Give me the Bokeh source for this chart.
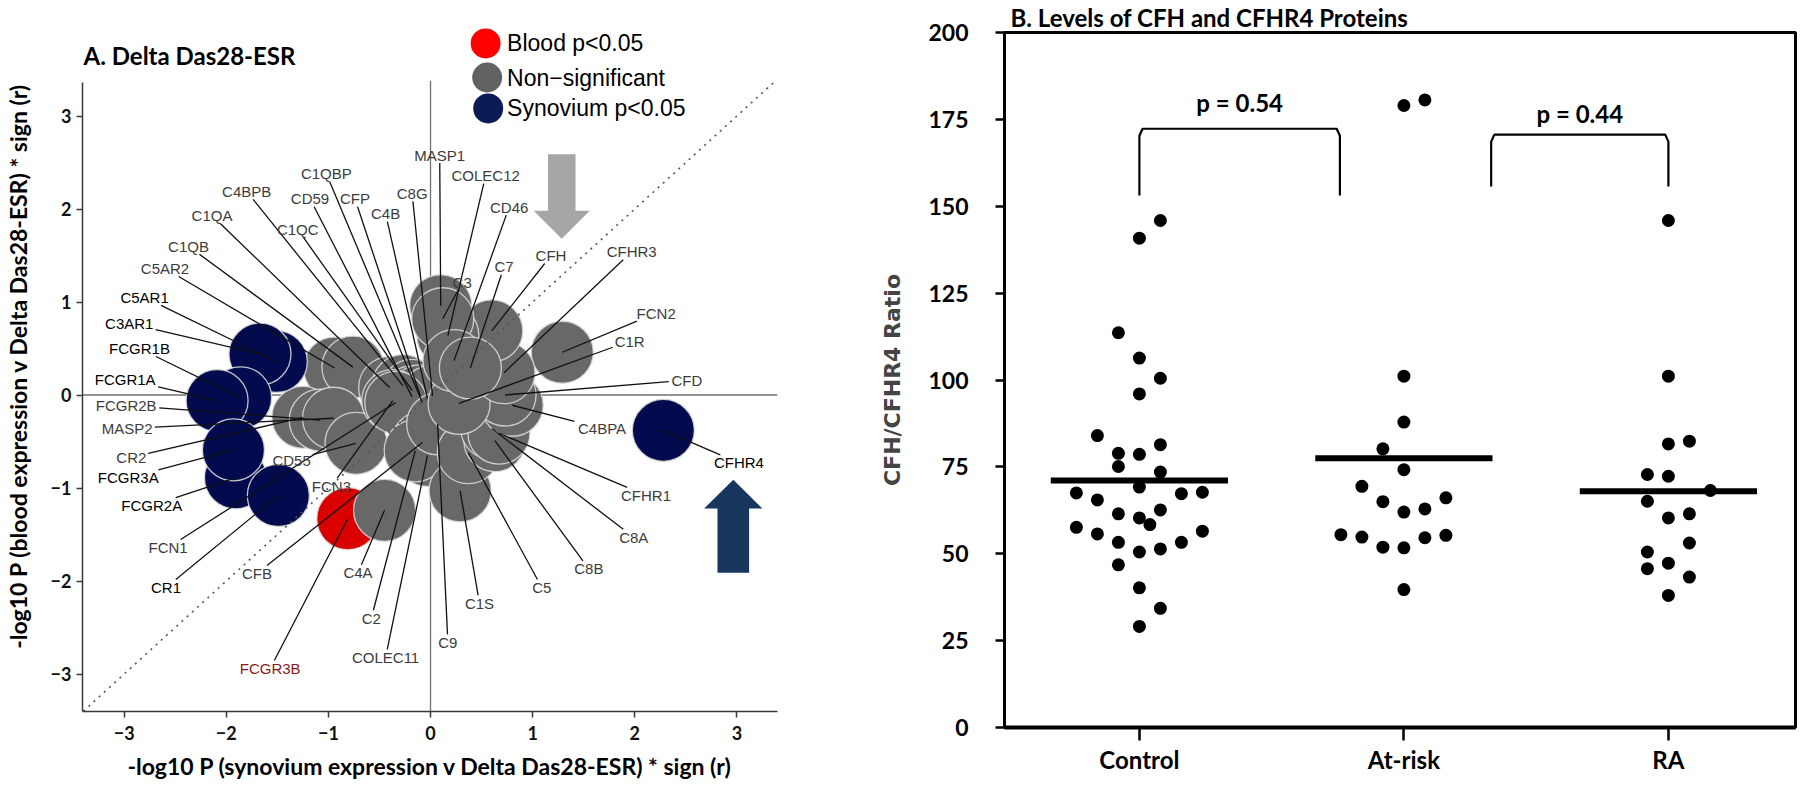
import math
from bokeh.plotting import figure
from bokeh.layouts import row
from bokeh.models import Range1d, FixedTicker, Label, ColumnDataSource, Title
from bokeh.embed import file_html
from bokeh.resources import INLINE
from bokeh.core.properties import value

# ---------------- Panel A data ----------------
genes = ["FCGR3B",
         "C5AR2", "C1QB", "C1QA", "C4BPB", "C1QC", "CD59", "C1QBP", "CFP", "C4B", "C8G",
         "CR2", "FCGR2B", "MASP2", "CD55", "FCN3", "FCN1", "CFB", "COLEC11", "C2", "C4A",
         "C9", "C1S", "C5", "C8B", "C8A", "CFHR1", "C4BPA", "CFD", "C1R", "FCN2", "CFHR3",
         "CFH", "MASP1", "COLEC12", "C3", "CD46", "C7",
         "C5AR1", "C3AR1", "FCGR1B", "FCGR1A", "FCGR2A", "FCGR3A", "CR1", "CFHR4"]
synovium = [-0.81,
            -0.94, -0.76, -0.40, -0.27, -0.18, -0.18, -0.08, -0.10, -0.03, 0.02,
            -1.25, -1.08, -0.95, -0.73, -0.37, -0.34, -0.08, -0.03, -0.15, -0.45,
            0.07, 0.29, 0.37, 0.63, 0.60, 0.67, 0.80, 0.73, 0.28, 1.29, 0.72,
            0.60, 0.10, 0.17, 0.12, 0.23, 0.39,
            -1.51, -1.67, -1.86, -2.09, -1.91, -1.93, -1.49, 2.28]
blood = [-1.33,
         0.29, 0.30, 0.08, 0.10, 0.05, -0.02, -0.08, -0.01, -0.04, -0.01,
         -0.24, -0.27, -0.25, -0.52, -0.06, -0.08, -0.51, -0.65, -0.60, -1.24,
         -0.31, -1.03, -0.62, -0.49, -0.36, -0.41, -0.11, 0.00, -0.09, 0.46, 0.24,
         0.69, 0.96, 0.64, 0.82, 0.37, 0.29,
         0.36, 0.44, -0.03, -0.06, -0.89, -0.59, -1.08, -0.38]
label_x = [-1.57,
           -2.60, -2.37, -2.14, -1.80, -1.30, -1.18, -1.02, -0.74, -0.44, -0.18,
           -2.93, -2.98, -2.97, -1.36, -0.97, -2.57, -1.70, -0.44, -0.58, -0.71,
           0.17, 0.48, 1.09, 1.55, 1.99, 2.11, 1.68, 2.51, 1.95, 2.21, 1.97,
           1.18, 0.09, 0.54, 0.31, 0.77, 0.72,
           -2.80, -2.95, -2.85, -2.99, -2.73, -2.96, -2.59, 3.02]
label_y = [-2.94,
           1.36, 1.60, 1.93, 2.19, 1.78, 2.11, 2.38, 2.11, 1.95, 2.17,
           -0.67, -0.11, -0.36, -0.70, -0.98, -1.64, -1.92, -2.82, -2.40, -1.91,
           -2.66, -2.24, -2.07, -1.87, -1.53, -1.08, -0.36, 0.16, 0.58, 0.88, 1.54,
           1.50, 2.58, 2.36, 1.21, 2.02, 1.38,
           1.05, 0.77, 0.50, 0.17, -1.19, -0.89, -2.07, -0.73]
group = (["blood"] + ["ns"] * 37 + ["syn"] * 8)

legend_labels = ["Blood p<0.05", "Non\u2212significant", "Synovium p<0.05"]
legend_groups = ["blood", "ns", "syn"]

# ---------------- Panel B data ----------------
categories = ["Control", "At-risk", "RA"]
control_vals = [145.9, 140.8, 113.6, 106.3, 100.5, 96.0, 84.0, 78.9, 78.6, 81.4, 75.1, 73.5,
                67.5, 65.5, 69.2, 67.3, 67.7, 61.5, 62.6, 60.3, 58.4, 57.6, 55.7, 56.5,
                53.3, 53.3, 50.5, 51.4, 46.8, 40.2, 34.3, 29.1]
control_col = [1, 0, -1, 0, 1, 0, -2, -1, 0, 1, -1, 1,
               -3, -2, 0, 2, 3, -1, 1, 0, 0.5, -3, -2, 3,
               -1, 2, 0, 1, -1, 0, 1, 0]
atrisk_vals = [179.0, 180.6, 101.1, 87.9, 80.2, 74.2, 69.4, 65.0, 66.1, 62.0, 62.9,
               55.5, 54.8, 51.9, 51.7, 54.6, 55.3, 39.7]
atrisk_col = [0, 1, 0, 0, -1, 0, -2, -1, 2, 0, 1, -3, -2, -1, 0, 1, 2, 0]
ra_vals = [145.9, 101.1, 81.6, 82.4, 72.8, 72.3, 68.2, 65.1, 60.3, 61.5, 53.1, 50.5,
           47.3, 45.7, 43.3, 38.0]
ra_col = [0, 0, 0, 1, -1, 0, 2, -1, 0, 1, 1, -1, 0, -1, 1, 0]
group_means = [71.1, 77.5, 68.0]

bracket_left = [1.0, 2.33]
bracket_right = [1.758, 3.0]
bracket_bottom = [153.1, 155.7]
bracket_top = [172.3, 170.6]
p_texts = ["p = 0.54", "p = 0.44"]
p_text_y = [180.0, 176.6]

# ---------------- styles ----------------
COLORS = {"blood": "#DA0000", "ns": "#686868", "syn": "#030B4E"}
LEG_COLORS = {"blood": "#FF0000", "ns": "#626262", "syn": "#0A1B55"}
TXT_COLORS = {"blood": "#8B1A1A", "ns": "#3C3C3C", "syn": "#000000"}

# ================= Panel A =================
XA0, XA1 = -3.408, 3.398
YA0, YA1 = -3.403, 4.027
FW_A, FH_A = 699, 691
pA = figure(width=780, height=788, x_range=Range1d(XA0, XA1), y_range=Range1d(YA0, YA1),
            output_backend="svg", toolbar_location=None,
            min_border_left=78, min_border_right=3, min_border_top=20, min_border_bottom=77)
pA.frame_align = False
pA.outline_line_color = None
pA.grid.visible = False
pA.background_fill_color = "white"
SX = FW_A / (XA1 - XA0)
SY = FH_A / (YA1 - YA0)

for ax in (pA.xaxis, pA.yaxis):
    ax.ticker = FixedTicker(ticks=[-3, -2, -1, 0, 1, 2, 3])
    ax.minor_tick_line_color = None
    ax.major_tick_in = 0
    ax.major_tick_out = 6
    ax.axis_line_color = "#3a3a3a"
    ax.axis_line_width = 1.5
    ax.major_tick_line_color = "#3a3a3a"
    ax.major_tick_line_width = 1.5
    ax.major_label_text_font = "Lato"
    ax.major_label_text_font_style = "bold"
    ax.major_label_text_font_size = "18px"
    ax.major_label_text_color = "#111111"
    ax.axis_label_text_font = "Lato"
    ax.axis_label_text_font_style = "bold"
    ax.axis_label_text_font_size = "23px"
    ax.axis_label_text_color = "#000000"
pA.yaxis.bounds = (YA0, 3.36)
pA.xaxis.major_label_standoff = 8
pA.yaxis.major_label_standoff = 5
pA.xaxis.axis_label_standoff = 9
pA.yaxis.axis_label_standoff = 16
pA.xaxis.axis_label = "-log10 P (synovium expression v Delta Das28-ESR) * sign (r)"
pA.yaxis.axis_label = "-log10 P (blood expression v Delta Das28-ESR) * sign (r)"

# zero lines
pA.segment(x0=[XA0, 0], y0=[0, YA0], x1=[XA1, 0], y1=[0, 3.38], line_color="#707070", line_width=1.3)

# arrows (annotations)
gray_arrow_x = [1.15, 1.42, 1.42, 1.56, 1.285, 1.01, 1.15]
gray_arrow_y = [2.59, 2.59, 1.98, 1.98, 1.68, 1.98, 1.98]
blue_arrow_x = [2.81, 3.12, 3.12, 3.25, 2.965, 2.68, 2.81]
blue_arrow_y = [-1.91, -1.91, -1.22, -1.22, -0.91, -1.22, -1.22]
pA.patch(gray_arrow_x, gray_arrow_y, fill_color="#A6A6A6", line_color=None)
pA.patch(blue_arrow_x, blue_arrow_y, fill_color="#17375E", line_color=None)

# circles
srcA = ColumnDataSource(dict(x=synovium, y=blood, gene=genes,
                             color=[COLORS[g] for g in group],
                             tcolor=[TXT_COLORS[g] for g in group],
                             lx=label_x, ly=label_y))
pA.scatter("x", "y", source=srcA, size=62, fill_color="color", line_color="#D8D8D8",
           line_width=1.3, line_alpha=0.9)

# diagonal dotted line y = x
pA.line([-3.40, 3.38], [-3.40, 3.38], line_color="#555555", line_width=1.6,
        line_dash="2 5")

# connector lines from label edge to circle centre
x0s, y0s = [], []
for gname, cx, cy, lx, ly in zip(genes, synovium, blood, label_x, label_y):
    w = sum(0.72 if ch.isalpha() else 0.556 for ch in gname) * 15
    dxp = (cx - lx) * SX
    dyp = (cy - ly) * SY
    hw, hh = w / 2 + 2, 8
    tx = hw / abs(dxp) if dxp != 0 else 1e9
    ty = hh / abs(dyp) if dyp != 0 else 1e9
    t = min(tx, ty, 1.0)
    x0s.append(lx + t * (cx - lx))
    y0s.append(ly + t * (cy - ly))
pA.segment(x0=x0s, y0=y0s, x1=synovium, y1=blood, line_color="#111111", line_width=1.3)

pA.text("lx", "ly", text="gene", source=srcA, text_color="tcolor",
        text_font=value("Liberation Sans"), text_font_size="15px",
        text_align="center", text_baseline="middle")

# legend
leg_x = [0.54, 0.555, 0.565]
leg_y = [3.78, 3.414, 3.081]
pA.scatter(leg_x, leg_y, size=30, fill_color=[LEG_COLORS[g] for g in legend_groups], line_color=None)
pA.text([0.75] * 3, leg_y, text=legend_labels, text_font=value("Liberation Sans"),
        text_font_size="23px", text_baseline="middle", text_align="left", text_color="#000000")

pA.add_layout(Label(x=XA0 + 0.01, y=3.65, text="A. Delta Das28-ESR", text_font="Lato",
                    text_font_style="bold", text_font_size="24px", text_baseline="middle",
                    text_align="left", text_color="#000000"))

# ================= Panel B =================
XB0 = 0.49
PX_PER_CAT = 264.5
FW_B = 791
XB1 = XB0 + FW_B / PX_PER_CAT
COL_W = 21.0 / PX_PER_CAT
pB = figure(width=1020, height=788, x_range=Range1d(XB0, XB1), y_range=Range1d(0, 200),
            output_backend="svg", toolbar_location=None,
            min_border_left=224, min_border_right=5, min_border_top=32, min_border_bottom=61)
pB.frame_align = False
pB.grid.visible = False
pB.outline_line_color = "#000000"
pB.outline_line_width = 3
pB.title = Title(text="B. Levels of CFH and CFHR4 Proteins", align="left", offset=6,
                 text_font="Lato", text_font_style="bold", text_font_size="24px",
                 standoff=1, text_color="#000000")

pB.xaxis.ticker = FixedTicker(ticks=[1, 2, 3])
pB.xaxis.major_label_overrides = {1: categories[0], 2: categories[1], 3: categories[2]}
pB.yaxis.ticker = FixedTicker(ticks=[0, 25, 50, 75, 100, 125, 150, 175, 200])
for ax in (pB.xaxis, pB.yaxis):
    ax.minor_tick_line_color = None
    ax.major_tick_in = 0
    ax.axis_line_color = "#000000"
    ax.major_tick_line_color = "#000000"
    ax.major_tick_line_width = 2.5
    ax.major_label_text_font = "Lato"
    ax.major_label_text_font_style = "bold"
    ax.major_label_text_color = "#000000"
pB.xaxis.axis_line_width = 4
pB.yaxis.axis_line_width = 3
pB.xaxis.major_tick_out = 13
pB.yaxis.major_tick_out = 9
pB.xaxis.major_label_text_font_size = "24px"
pB.yaxis.major_label_text_font_size = "23px"
pB.xaxis.major_label_standoff = 4
pB.yaxis.major_label_standoff = 27
pB.yaxis.axis_label = "CFH/CFHR4 Ratio"
pB.yaxis.axis_label_text_font = "DejaVu Sans"
pB.yaxis.axis_label_text_font_style = "bold"
pB.yaxis.axis_label_text_font_size = "22px"
pB.yaxis.axis_label_standoff = 20

dot_x, dot_y = [], []
for ci, (vals, cols) in enumerate([(control_vals, control_col), (atrisk_vals, atrisk_col), (ra_vals, ra_col)]):
    for v, c in zip(vals, cols):
        dot_x.append(ci + 1 + c * COL_W)
        dot_y.append(v)
pB.scatter(dot_x, dot_y, size=13, fill_color="#000000", line_color=None)

MEAN_HALF = 0.335
pB.segment(x0=[i + 1 - MEAN_HALF for i in range(3)], y0=group_means,
           x1=[i + 1 + MEAN_HALF for i in range(3)], y1=group_means,
           line_color="#000000", line_width=6)

for xl, xr, yb, yt in zip(bracket_left, bracket_right, bracket_bottom, bracket_top):
    d = 0.012
    pB.line([xl, xl, xl + d, xr - d, xr, xr], [yb, yt - 2.0, yt, yt, yt - 2.0, yb],
            line_color="#000000", line_width=2.2)
pB.text([(a + b) / 2 for a, b in zip(bracket_left, bracket_right)], p_text_y, text=p_texts,
        text_font=value("Lato"), text_font_style="bold", text_font_size="24px",
        text_align="center", text_baseline="middle", text_color="#000000")

layout = row(pA, pB)
open("out.html", "w").write(file_html(layout, INLINE))
